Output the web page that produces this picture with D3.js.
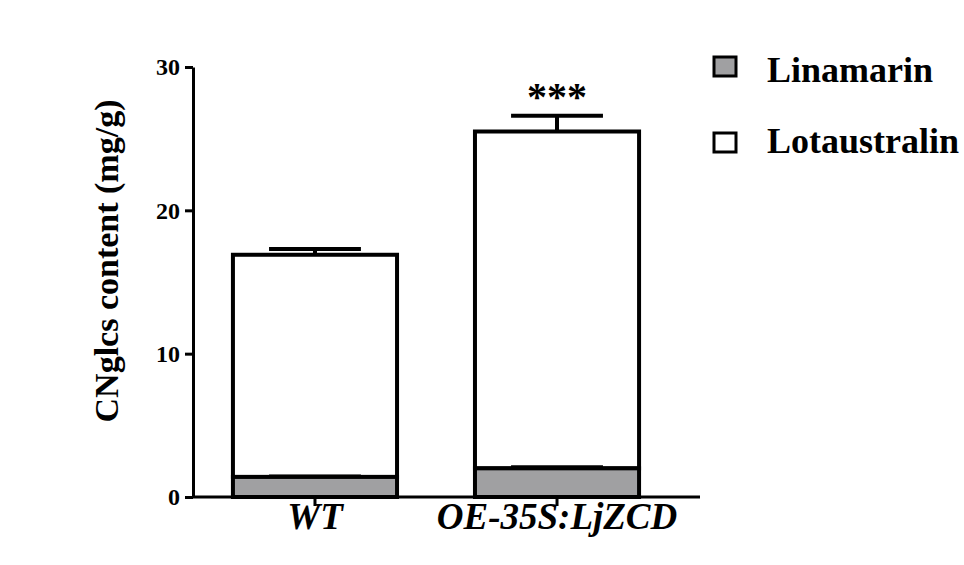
<!DOCTYPE html><html><head><meta charset="utf-8">
<script src="https://cdn.jsdelivr.net/npm/d3@7"></script>
<style>body{margin:0;background:#fff}text{font-family:"Liberation Serif","Times New Roman",serif;font-weight:bold}</style>
</head><body><svg id="c" width="964" height="565"></svg>
<script>
const categories=["WT","OE-35S:LjZCD"];
const linamarin=[1.4,2.0];
const linamarinErr=[0.1,0.15];
const lotaustralin=[15.5,23.5];
const totalErr=[0.4,1.1];
const significance=["","***"];
const yTicks=[0,10,20,30];
const svg=d3.select("#c");
const y=d3.scaleLinear().domain([0,30]).range([497,67]);
const x=d3.scaleBand().domain(categories).range([193,679]).paddingInner(0.322).paddingOuter(0.165);
const g=svg.append("g");
g.append("g").attr("transform","translate(193,0)").call(d3.axisLeft(y).tickValues(yTicks).tickSize(8).tickSizeOuter(0))
 .call(a=>{a.select(".domain").attr("stroke-width",3);a.selectAll("line").attr("stroke-width",3);a.selectAll("text").attr("font-size",24).attr("font-family","Liberation Serif").attr("font-weight","bold").attr("dx",-2);});
g.append("g").attr("transform","translate(0,497)").call(d3.axisBottom(x).tickSize(9).tickSizeOuter(0))
 .call(a=>{a.select(".domain").attr("stroke-width",3).attr("d","M193,0H700");a.selectAll("line").attr("stroke-width",3);a.selectAll("text").attr("font-size",37).attr("font-style","italic").attr("font-family","Liberation Serif").attr("font-weight","bold").attr("dy",20);});
categories.forEach((c,i)=>{
  const x0=x(c),w=x.bandwidth(),tot=linamarin[i]+lotaustralin[i],cx=x0+w/2;
  g.append("line").attr("x1",cx).attr("x2",cx).attr("y1",y(tot)).attr("y2",y(tot+totalErr[i])).attr("stroke","#000").attr("stroke-width",4);
  g.append("line").attr("x1",cx-w*0.28).attr("x2",cx+w*0.28).attr("y1",y(tot+totalErr[i])).attr("y2",y(tot+totalErr[i])).attr("stroke","#000").attr("stroke-width",4);
  g.append("rect").attr("x",x0).attr("width",w).attr("y",y(tot)).attr("height",y(linamarin[i])-y(tot)).attr("fill","#fff").attr("stroke","#000").attr("stroke-width",4);
  g.append("rect").attr("x",x0).attr("width",w).attr("y",y(linamarin[i])).attr("height",y(0)-y(linamarin[i])).attr("fill","#a0a0a2").attr("stroke","#000").attr("stroke-width",4);
  g.append("line").attr("x1",cx-w*0.28).attr("x2",cx+w*0.28).attr("y1",y(linamarin[i]+linamarinErr[i])).attr("y2",y(linamarin[i]+linamarinErr[i])).attr("stroke","#000").attr("stroke-width",2);
  if(significance[i]) g.append("text").attr("x",cx).attr("y",y(tot+totalErr[i])-6).attr("text-anchor","middle").attr("font-size",40).text(significance[i]);
});
svg.append("text").attr("transform","translate(118,261) rotate(-90)").attr("text-anchor","middle").attr("font-size",34).text("CNglcs content (mg/g)");
const leg=[["Linamarin","#a0a0a2"],["Lotaustralin","#fff"]];
leg.forEach((l,i)=>{
  svg.append("rect").attr("x",714).attr("y",57+i*76).attr("width",22).attr("height",19).attr("fill",l[1]).attr("stroke","#000").attr("stroke-width",3);
  svg.append("text").attr("x",767).attr("y",82+i*71).attr("font-size",36).text(l[0]);
});
</script></body></html>
